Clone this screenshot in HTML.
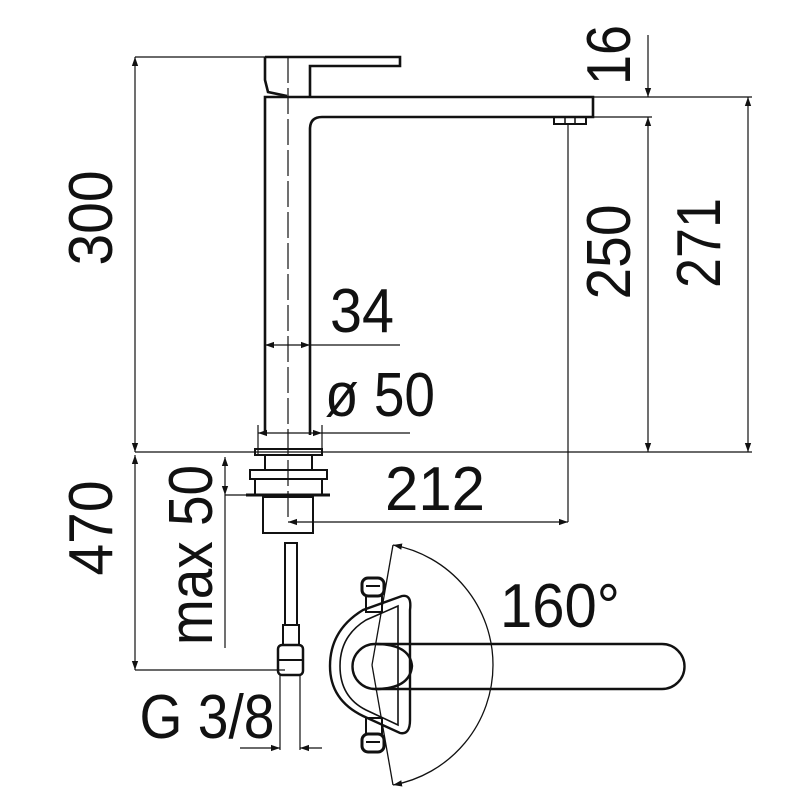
<!DOCTYPE html>
<html><head><style>html,body{margin:0;padding:0;background:#fff}svg{display:block}</style></head>
<body>
<svg width="800" height="800" viewBox="0 0 800 800" xmlns="http://www.w3.org/2000/svg" font-family="Liberation Sans, sans-serif" fill="none" stroke="#111">
<defs>
<marker id="a" viewBox="0 0 10 10" refX="10" refY="5" markerWidth="9" markerHeight="9" orient="auto-start-reverse" markerUnits="userSpaceOnUse"><path d="M0,1.5 L10,5 L0,8.5 z" fill="#111" stroke="none"/></marker>
</defs>
<g stroke-width="1.2">
<line x1="135" y1="57" x2="265" y2="57"/>
<line x1="135" y1="452" x2="752" y2="452"/>
<line x1="593" y1="97" x2="752" y2="97"/>
<line x1="586" y1="117" x2="652" y2="117"/>
<line x1="568" y1="124" x2="568" y2="522"/>
<line x1="135" y1="670" x2="285" y2="670"/>
<line x1="225" y1="495" x2="260" y2="495"/>
<line x1="135" y1="57" x2="135" y2="452" marker-start="url(#a)" marker-end="url(#a)"/>
<line x1="648" y1="35" x2="648" y2="97" marker-end="url(#a)"/>
<line x1="648" y1="117" x2="648" y2="452" marker-start="url(#a)" marker-end="url(#a)"/>
<line x1="748" y1="97" x2="748" y2="452" marker-start="url(#a)" marker-end="url(#a)"/>
<line x1="135" y1="455" x2="135" y2="670" marker-start="url(#a)" marker-end="url(#a)"/>
<line x1="225" y1="457" x2="225" y2="495" marker-start="url(#a)" marker-end="url(#a)"/>
<line x1="225" y1="495" x2="225" y2="648"/>
<line x1="265" y1="345" x2="310" y2="345" marker-start="url(#a)" marker-end="url(#a)"/>
<line x1="310" y1="345" x2="400" y2="345"/>
<line x1="258" y1="433" x2="322" y2="433" marker-start="url(#a)" marker-end="url(#a)"/>
<line x1="322" y1="433" x2="410" y2="433"/>
<line x1="258" y1="425" x2="258" y2="455"/><line x1="322" y1="425" x2="322" y2="455"/>
<line x1="288" y1="522" x2="568" y2="522" marker-start="url(#a)" marker-end="url(#a)"/>
<line x1="280" y1="675" x2="280" y2="750"/><line x1="300" y1="675" x2="300" y2="750"/>
<line x1="240" y1="748" x2="280" y2="748" marker-end="url(#a)"/>
<line x1="322" y1="748" x2="300" y2="748" marker-end="url(#a)"/>
<line x1="288" y1="57" x2="288" y2="522" stroke-dasharray="26,5"/>
</g>
<g stroke-width="2.6">
<path d="M265 435 V97 H593 V117 H322 Q310 117 310 129 V435"/>
<path d="M265 57 H400 V66 H310 V97"/>
<path d="M265 57 V80 L268 92 L287 96"/>
<rect x="554" y="117" width="32" height="7" stroke-width="2"/>
<line x1="565" y1="117" x2="565" y2="124" stroke-width="1.5"/>
<line x1="575" y1="117" x2="575" y2="124" stroke-width="1.5"/>
<rect x="255" y="449" width="67" height="6" stroke-width="2"/>
<path d="M265 455 V470 M312 455 V470" stroke-width="2"/>
<rect x="250" y="470" width="77" height="9" stroke-width="2"/>
<path d="M255 479 V495 M322 479 V495" stroke-width="2"/>
<line x1="246" y1="495" x2="330" y2="495" stroke-width="3"/>
<rect x="263" y="497" width="50" height="36" stroke-width="2"/>
<rect x="285" y="543" width="12" height="82" stroke-width="2"/>
<rect x="283" y="625" width="16" height="20" stroke-width="2"/>
<rect x="278" y="645" width="25" height="30" rx="4" stroke-width="2.5"/>
<line x1="278" y1="660" x2="303" y2="660" stroke-width="2"/>
</g>
<g stroke-width="2.4">
<path d="M375 644 H662 A22 22 0 0 1 662 689 H375" />
<path d="M375 644 A22 22 0 0 0 375 689"/>
<path d="M375 644 Q410 644 412 666 Q410 689 375 689"/>
<path d="M363 610 L402 596 Q412 594 410 610 V720 Q410 735 400 733 L363 716 Q330 700 330 666 Q330 630 363 610 Z"/>
<path d="M366 620 L398 606 V725 L366 710 Q340 697 340 666 Q340 636 366 620 Z" stroke-width="1.6"/>
<rect x="366" y="592" width="16" height="20" stroke-width="2"/>
<rect x="366" y="718" width="16" height="20" stroke-width="2"/>
<rect x="362" y="578" width="22" height="18" rx="6" stroke-width="3" fill="#fff"/>
<rect x="362" y="734" width="22" height="18" rx="6" stroke-width="3" fill="#fff"/>
<path d="M366 586 H380 M366 742 H380" stroke-width="2"/>
</g>
<g stroke-width="1.3">
<path d="M393 545 A122 122 0 0 1 393 785" marker-start="url(#a)" marker-end="url(#a)"/>
<line x1="393" y1="545" x2="372" y2="665"/>
<line x1="393" y1="785" x2="372" y2="665"/>
</g>
<g fill="#111" stroke="none" font-size="62">
<text transform="translate(112,218) rotate(-90)" text-anchor="middle" textLength="95" lengthAdjust="spacingAndGlyphs">300</text>
<text transform="translate(630,55) rotate(-90)" text-anchor="middle" textLength="60" lengthAdjust="spacingAndGlyphs">16</text>
<text transform="translate(630,252) rotate(-90)" text-anchor="middle" textLength="95" lengthAdjust="spacingAndGlyphs">250</text>
<text transform="translate(720,243) rotate(-90)" text-anchor="middle" textLength="90" lengthAdjust="spacingAndGlyphs">271</text>
<text transform="translate(112,528) rotate(-90)" text-anchor="middle" textLength="95" lengthAdjust="spacingAndGlyphs">470</text>
<text transform="translate(212,555) rotate(-90)" text-anchor="middle" textLength="180" lengthAdjust="spacingAndGlyphs">max 50</text>
<text x="362" y="332" text-anchor="middle" textLength="64" lengthAdjust="spacingAndGlyphs">34</text>
<text x="380" y="416" text-anchor="middle" textLength="110" lengthAdjust="spacingAndGlyphs">ø 50</text>
<text x="435" y="510" text-anchor="middle" textLength="100" lengthAdjust="spacingAndGlyphs">212</text>
<text x="560" y="627" text-anchor="middle" textLength="120" lengthAdjust="spacingAndGlyphs">160°</text>
<text x="207" y="738" text-anchor="middle" textLength="135" lengthAdjust="spacingAndGlyphs">G 3/8</text>
</g>
</svg>
</body></html>
